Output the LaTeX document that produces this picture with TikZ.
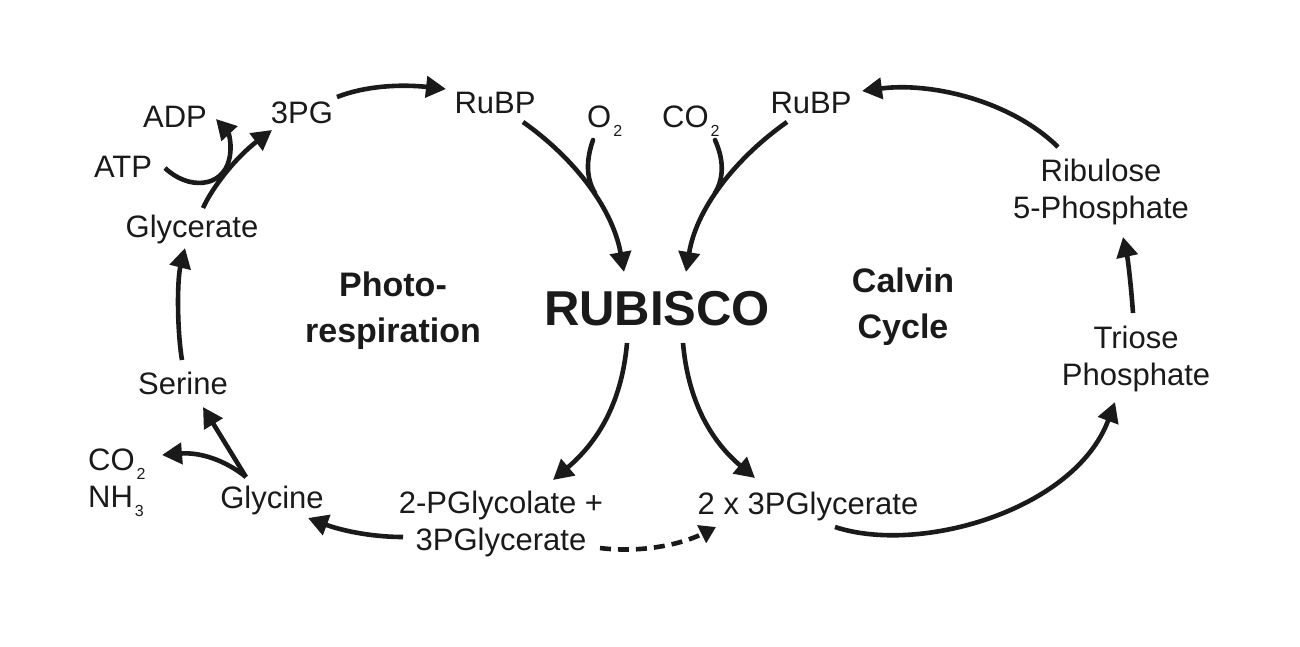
\documentclass[tikz,border=0pt]{standalone}
\usepackage{fontspec}
\setmainfont{Liberation Sans}
\usetikzlibrary{arrows.meta}
\definecolor{ink}{HTML}{1A1A1A}
\newcommand{\subsc}[1]{\kern2pt\raisebox{-9pt}{\fontsize{16}{16}\selectfont #1}}
\tikzset{
  lbl/.style={anchor=base, inner sep=0pt, text=ink, font=\fontsize{31}{37}\selectfont, align=center},
  bold/.style={anchor=base, inner sep=0pt, text=ink, font=\fontsize{34}{46}\selectfont\bfseries, align=center},
  arr/.style={draw=ink, line width=4.6pt, -{Triangle[length=20pt,width=21pt]}},
  branch/.style={draw=ink, line width=4.6pt, line cap=round},
  dasharr/.style={draw=ink, line width=4.6pt, dash pattern=on 11pt off 7pt, -{Triangle[length=16pt,width=19pt]}},
}
\begin{document}
\begin{tikzpicture}[x=1pt,y=-1pt]
\useasboundingbox[fill=white] (0,0) rectangle (1300,646);

% text nodes (multi-line nodes are placed at the baseline of their last line)
\node[lbl] (adp) at (175,127) {ADP};
\node[lbl] (pg3) at (302,123) {3PG};
\node[lbl] (atp) at (123,177) {ATP};
\node[lbl] (glycerate) at (192,237) {Glycerate};
\node[lbl] (serine) at (183,394) {Serine};
\node[lbl, anchor=base west, align=left] (co2nh3) at (88,507) {CO\subsc{2}\\NH\subsc{3}};
\node[lbl] (glycine) at (272,508) {Glycine};
\node[lbl] (pglyc) at (501,550) {2-PGlycolate +\\3PGlycerate};
\node[lbl] (twopg) at (808,514) {2 x 3PGlycerate};
\node[lbl] (triose) at (1136,385) {Triose\\Phosphate};
\node[lbl] (ribulose) at (1101,218) {Ribulose\\5-Phosphate};
\node[lbl] (rubpL) at (495,113) {RuBP};
\node[lbl] (rubpR) at (811,113) {RuBP};
\node[lbl, anchor=base west] (o2) at (587,127) {O\subsc{2}};
\node[lbl, anchor=base west] (co2top) at (662,127) {CO\subsc{2}};
\node[bold] (photo) at (393,342) {Photo-\\respiration};
\node[bold, font=\fontsize{49}{49}\selectfont\bfseries] (rubisco) at (657,325) {RUBISCO};
\node[bold] (calvin) at (903,338) {Calvin\\Cycle};

% connector end points
\coordinate (a1s) at (337,97);   \coordinate (a1e) at (446,89);
\coordinate (a2s) at (203,208);  \coordinate (a2e) at (272,130);
\coordinate (a3s) at (165,168);  \coordinate (a3m) at (229,160); \coordinate (a3e) at (216,119);
\coordinate (a4s) at (182,360);  \coordinate (a4e) at (185,248);
\coordinate (a5s) at (246,477);  \coordinate (a5e) at (203,407);
\coordinate (a6e) at (162,455);
\coordinate (a7s) at (403,537);  \coordinate (a7e) at (308,518);
\coordinate (a8s) at (523,122);  \coordinate (a8e) at (624,272);
\coordinate (b1s) at (593,140);  \coordinate (b1e) at (595,193);
\coordinate (a9s) at (787,122);  \coordinate (a9e) at (686,272);
\coordinate (b2s) at (715,140);  \coordinate (b2e) at (715,193);
\coordinate (a10s) at (627,343); \coordinate (a10e) at (553,480);
\coordinate (a11s) at (683,343); \coordinate (a11e) at (755,478);
\coordinate (d1s) at (600,548);  \coordinate (d1e) at (716,527);
\coordinate (a12s) at (835,527); \coordinate (a12e) at (1115,402);
\coordinate (a13s) at (1133,313);\coordinate (a13e) at (1123,237);
\coordinate (a14s) at (1058,147);\coordinate (a14e) at (862,91);

% photorespiration cycle
\draw[arr] (a1s) .. controls (365,86) and (400,84) .. (a1e);
\draw[arr] (a2s) .. controls (212,188) and (235,158) .. (a2e);
\draw[arr] (a3s) .. controls (188,190) and (222,188) .. (a3m) .. controls (233,145) and (228,132) .. (a3e);
\draw[arr] (a4s) .. controls (177,330) and (177,280) .. (a4e);
\draw[arr] (a5s) -- (a5e);
\draw[arr] (a5s) .. controls (225,460) and (200,452) .. (a6e);
\draw[arr] (a7s) .. controls (370,537) and (340,530) .. (a7e);

% into RUBISCO
\draw[arr] (a8s) .. controls (570,155) and (612,205) .. (a8e);
\draw[branch] (b1s) .. controls (586,160) and (586,178) .. (b1e);
\draw[arr] (a9s) .. controls (740,155) and (697,205) .. (a9e);
\draw[branch] (b2s) .. controls (724,160) and (724,178) .. (b2e);

% out of RUBISCO
\draw[arr] (a10s) .. controls (622,400) and (600,440) .. (a10e);
\draw[arr] (a11s) .. controls (688,400) and (710,440) .. (a11e);
\draw[dasharr] (d1s) .. controls (640,553) and (680,545) .. (d1e);

% Calvin cycle
\draw[arr] (a12s) .. controls (920,555) and (1075,510) .. (a12e);
\draw[arr] (a13s) .. controls (1131,285) and (1128,260) .. (a13e);
\draw[arr] (a14s) .. controls (1010,100) and (930,82) .. (a14e);
\end{tikzpicture}
\end{document}
